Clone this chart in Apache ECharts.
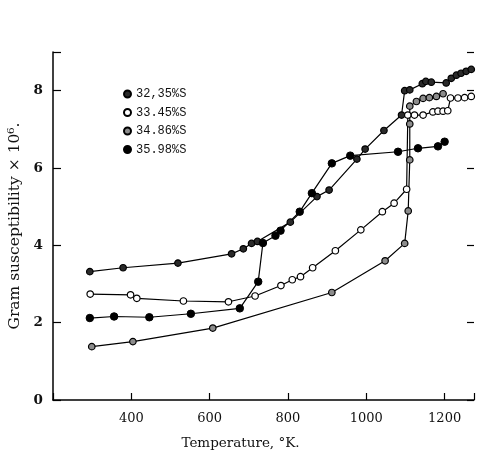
<!DOCTYPE html>
<html><head><meta charset="utf-8">
<script src="https://cdn.jsdelivr.net/npm/echarts@6/dist/echarts.min.js"></script>
<style>html,body{margin:0;padding:0;background:#fff}#c{width:483px;height:462px}</style>
</head><body><div id="c"></div>
<script>
// Temperature (K) / gram susceptibility x 10^6 pairs
const seriesNames = ['32,35%S', '33.45%S', '34.86%S', '35.98%S'];
const s3235 = [[294,3.32],[379,3.42],[519,3.54],[656,3.78],[686,3.91],[707,4.05],[722,4.1],[806,4.6],[874,5.26],[905,5.43],[976,6.23],[997,6.49],[1045,6.97],[1090,7.37],[1098,8.0],[1111,8.02],[1143,8.18],[1152,8.24],[1166,8.22],[1204,8.2],[1217,8.32],[1230,8.4],[1242,8.45],[1255,8.5],[1268,8.55]];
const s3345 = [[295,2.74],[398,2.72],[414,2.63],[533,2.56],[648,2.54],[716,2.69],[782,2.96],[811,3.11],[832,3.19],[863,3.42],[921,3.86],[986,4.4],[1041,4.87],[1071,5.09],[1103,5.45],[1106,7.37],[1123,7.37],[1145,7.37],[1170,7.45],[1183,7.47],[1196,7.47],[1208,7.48],[1215,7.81],[1234,7.81],[1251,7.82],[1268,7.85]];
const s3486 = [[299,1.38],[404,1.51],[608,1.86],[912,2.78],[1048,3.6],[1098,4.05],[1107,4.89],[1111,6.21],[1111,7.14],[1111,7.6],[1128,7.72],[1145,7.8],[1161,7.82],[1179,7.85],[1196,7.92]];
const s3598 = [[294,2.12],[356,2.16],[446,2.14],[552,2.23],[677,2.37],[724,3.06],[736,4.06],[768,4.25],[781,4.38],[830,4.87],[861,5.35],[912,6.12],[959,6.32],[1081,6.42],[1132,6.51],[1183,6.56],[1200,6.68]];
const yTicks = [0, 2, 4, 6, 8];
const xTickLabels = ['400', '600', '800', '1000', '1200'];

const styles = [
  {color:'#2a2a2a', borderColor:'#000', borderWidth:1.2, size:6.5},
  {color:'#ffffff', borderColor:'#000', borderWidth:1.2, size:6.5},
  {color:'#8c8c8c', borderColor:'#000', borderWidth:1.2, size:6.5},
  {color:'#000000', borderColor:'#000', borderWidth:1, size:7.5}
];
const datas = [s3235, s3345, s3486, s3598];

const chart = echarts.init(document.getElementById('c'));
chart.setOption({
  animation: false,
  backgroundColor: '#fff',
  grid: {left: 53, right: 9, top: 52, bottom: 62, containLabel: false, outerBoundsMode: 'none'},
  legend: {
    orient: 'vertical', left: 123, top: 88, itemGap: 6.5, padding: 0,
    itemWidth: 7, itemHeight: 7, icon: 'circle',
    data: seriesNames,
    textStyle: {fontFamily: 'Liberation Mono', fontSize: 12, color: '#111', lineHeight: 12}
  },
  xAxis: {
    type: 'value', min: 200, max: 1275, interval: 200,
    name: 'Temperature, °K.', nameLocation: 'middle', nameGap: 36,
    nameTextStyle: {fontFamily: 'DejaVu Serif', fontSize: 13.5, color: '#111', padding: [0, 46, 0, 0]},
    axisLine: {lineStyle: {color: '#000', width: 1.5}},
    axisTick: {inside: true, length: 7, lineStyle: {color: '#000', width: 1.2}},
    axisLabel: {margin: 12, fontFamily: 'DejaVu Serif', fontSize: 13, color: '#111',
      formatter: v => xTickLabels.includes(String(v)) ? String(v) : ''},
    splitLine: {show: false}
  },
  yAxis: [{
    type: 'value', min: 0, max: 9, interval: 2,
    name: 'Gram susceptibility × 10⁶.', nameLocation: 'middle', nameGap: 25,
    nameTextStyle: {fontFamily: 'DejaVu Serif', fontSize: 15.5, color: '#111', padding: [12, 0, 0, 0]},
    axisLine: {show: true, lineStyle: {color: '#000', width: 1.5}},
    axisTick: {inside: true, length: 8, lineStyle: {color: '#000', width: 1.2}},
    axisLabel: {margin: 10, fontFamily: 'DejaVu Serif', fontWeight: 'bold', fontSize: 13.5, color: '#111',
      formatter: v => yTicks.includes(v) ? String(v) : ''},
    splitLine: {show: false}
  }, {
    type: 'value', min: 0, max: 9, interval: 2, position: 'right',
    axisLine: {show: false},
    axisTick: {show: true, inside: true, length: 7, lineStyle: {color: '#000', width: 1.2}},
    axisLabel: {show: false}, splitLine: {show: false}
  }],
  series: datas.map((d, i) => ({
    name: seriesNames[i], type: 'line', data: d, smooth: false,
    symbol: 'circle', symbolSize: styles[i].size,
    lineStyle: {color: '#000', width: 1.2},
    itemStyle: {color: styles[i].color, borderColor: styles[i].borderColor, borderWidth: styles[i].borderWidth},
    emphasis: {disabled: true}
  }))
});
</script></body></html>
